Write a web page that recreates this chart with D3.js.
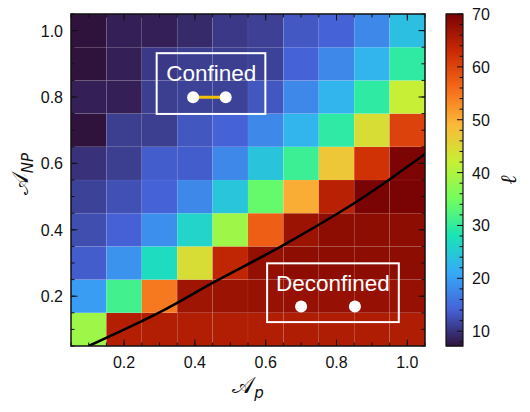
<!DOCTYPE html>
<html>
<head>
<meta charset="utf-8">
<script src="https://cdn.jsdelivr.net/npm/d3@7"></script>
<style>
  body { margin: 0; background: #fff; }
  text { font-family: "Liberation Sans", Arial, sans-serif; fill: #111; }
</style>
</head>
<body>
<div id="vis"></div>
<script>
// DATA
const apValues = [0.1, 0.2, 0.3, 0.4, 0.5, 0.6, 0.7, 0.8, 0.9, 1.0];
const anpValues = [0.1, 0.2, 0.3, 0.4, 0.5, 0.6, 0.7, 0.8, 0.9, 1.0];
// rows from A_NP = 0.1 (bottom) to 1.0 (top), columns A_p = 0.1 .. 1.0
const ellRows = [
  [38.7, 65, 65.3, 65.3, 65.3, 65.3, 65.5, 65.5, 65.5, 65.5],
  [20, 31.3, 54.8, 66.8, 67.2, 67.4, 67.6, 67.6, 67.6, 67.6],
  [13.7, 18.9, 27.2, 44.4, 64, 67.8, 68.4, 68.4, 68.4, 68.4],
  [12.4, 14.1, 18.5, 26.2, 38.7, 57.4, 67.2, 68.4, 68.4, 68.4],
  [11.4, 12.6, 14.2, 17.9, 24.4, 34, 50.2, 64.6, 70, 70],
  [10, 11, 13.7, 13.7, 17.9, 24.3, 30.8, 47.4, 62.2, 69.8],
  [7.3, 11, 11, 13.2, 14.2, 17.9, 22.5, 29.7, 44.4, 60.4],
  [8.4, 8.4, 11, 11.4, 11.4, 13.2, 17.9, 22.5, 29.7, 42],
  [7.3, 8.4, 10.6, 11, 11, 11.4, 14.2, 17.9, 22.5, 29.7],
  [7.3, 8.4, 8.4, 9.3, 10.6, 11.2, 13.3, 14.2, 17.9, 23.7]
];
const boundaryX = [0.1, 0.3, 0.45, 0.65, 0.85, 0.95, 1.06];
const boundaryY = [0.05, 0.151, 0.24, 0.354, 0.48, 0.552, 0.636];
const xTicks = [0.2, 0.4, 0.6, 0.8, 1.0];
const yTicks = [0.2, 0.4, 0.6, 0.8, 1.0];
const cbTicks = [10, 20, 30, 40, 50, 60, 70];
const ellMin = 7.2, ellMax = 70;

// turbo stops (matplotlib)
const turboStops = ["#30123b", "#4662d7", "#36aaf9", "#1ae4b6", "#72fe5e",
                    "#c7ef34", "#faba39", "#f66b19", "#cb2a04", "#7a0403"];

const width = 530, height = 412;
const margin = {left: 71, top: 14, right: 105, bottom: 66};
const plotW = 425 - margin.left, plotH = 346 - margin.top;

const svg = d3.select("#vis").append("svg")
  .attr("width", width).attr("height", height);

// SCALES
const x = d3.scaleLinear().domain([0.05, 1.05]).range([margin.left, margin.left + plotW]);
const y = d3.scaleLinear().domain([0.05, 1.05]).range([margin.top + plotH, margin.top]);
const turbo = d3.piecewise(d3.interpolateRgb, turboStops);
const color = d3.scaleSequential(turbo).domain([ellMin, ellMax]);

// HEATMAP
const cells = [];
ellRows.forEach((row, i) => row.forEach((v, j) => cells.push({ap: apValues[j], anp: anpValues[i], v: v})));
const half = 0.05;
svg.append("g").selectAll("rect")
  .data(cells).enter().append("rect")
  .attr("x", d => x(d.ap - half))
  .attr("y", d => y(d.anp + half))
  .attr("width", d => x(d.ap + half) - x(d.ap - half))
  .attr("height", d => y(d.anp - half) - y(d.anp + half))
  .attr("fill", d => color(d.v))
  .attr("stroke", "rgba(255,255,255,0.09)")
  .attr("stroke-width", 0.6);

// boundary curve
const clipId = "plotclip";
svg.append("clipPath").attr("id", clipId).append("rect")
  .attr("x", margin.left).attr("y", margin.top).attr("width", plotW).attr("height", plotH);
const line = d3.line().x(d => x(d[0])).y(d => y(d[1])).curve(d3.curveCatmullRom);
svg.append("path")
  .datum(boundaryX.map((v, i) => [v, boundaryY[i]]))
  .attr("clip-path", "url(#" + clipId + ")")
  .attr("d", line)
  .attr("fill", "none").attr("stroke", "#000").attr("stroke-width", 2.6);

// AXES (inward ticks on all sides)
const minor = d3.range(0.05, 1.051, 0.05);
const axG = svg.append("g");
function drawTicks(scale, orient, pos, vals, len) {
  const g = axG.append("g");
  vals.forEach(v => {
    const p = scale(v);
    if (orient === "bottom") g.append("line").attr("x1", p).attr("x2", p).attr("y1", pos).attr("y2", pos - len);
    if (orient === "top") g.append("line").attr("x1", p).attr("x2", p).attr("y1", pos).attr("y2", pos + len);
    if (orient === "left") g.append("line").attr("y1", p).attr("y2", p).attr("x1", pos).attr("x2", pos + len);
    if (orient === "right") g.append("line").attr("y1", p).attr("y2", p).attr("x1", pos).attr("x2", pos - len);
  });
  g.selectAll("line").attr("stroke", "#111").attr("stroke-width", 1);
}
const bottomY = margin.top + plotH, rightX = margin.left + plotW;
drawTicks(x, "bottom", bottomY, minor, 3.5);
drawTicks(x, "bottom", bottomY, xTicks, 6.5);
drawTicks(x, "top", margin.top, minor, 3.5);
drawTicks(x, "top", margin.top, xTicks, 6.5);
drawTicks(y, "left", margin.left, minor, 3.5);
drawTicks(y, "left", margin.left, yTicks, 6.5);
drawTicks(y, "right", rightX, minor, 3.5);
drawTicks(y, "right", rightX, yTicks, 6.5);

svg.append("g").selectAll("text").data(xTicks).enter().append("text")
  .attr("x", d => x(d)).attr("y", bottomY + 22)
  .attr("text-anchor", "middle").attr("font-size", 16)
  .text(d => d.toFixed(1));
svg.append("g").selectAll("text").data(yTicks).enter().append("text")
  .attr("x", margin.left - 8).attr("y", d => y(d) + 6)
  .attr("text-anchor", "end").attr("font-size", 16)
  .text(d => d.toFixed(1));

svg.append("rect")
  .attr("x", margin.left).attr("y", margin.top).attr("width", plotW).attr("height", plotH)
  .attr("fill", "none").attr("stroke", "#111").attr("stroke-width", 1.5);

// axis labels
const xl = svg.append("text").attr("x", 248).attr("y", 393).attr("text-anchor", "middle")
  .attr("font-size", 23).style("font-family", "'DejaVu Sans', 'Noto Sans', serif");
xl.append("tspan").text("\u{1D49C}");
xl.append("tspan").attr("font-size", 15).attr("dy", 5).style("font-style", "italic").text("p");

const yl = svg.append("text").attr("transform", "translate(28,174) rotate(-90)").attr("text-anchor", "middle")
  .attr("font-size", 23).style("font-family", "'DejaVu Sans', 'Noto Sans', serif");
yl.append("tspan").text("\u{1D49C}");
yl.append("tspan").attr("font-size", 15).attr("dy", 5).style("font-style", "italic").text("NP");

// ANNOTATIONS
function annBox(x0, x1, y0, y1, label, tx, ty, dots, bond) {
  svg.append("rect")
    .attr("x", x(x0)).attr("y", y(y0)).attr("width", x(x1) - x(x0)).attr("height", y(y1) - y(y0))
    .attr("fill", "none").attr("stroke", "#fff").attr("stroke-width", 2);
  svg.append("text").attr("x", x(tx)).attr("y", y(ty)).attr("text-anchor", "middle")
    .attr("font-size", 22.5).style("fill", "#fff").text(label);
  if (bond) {
    svg.append("line").attr("x1", x(dots[0][0])).attr("x2", x(dots[1][0]))
      .attr("y1", y(dots[0][1])).attr("y2", y(dots[1][1]))
      .attr("stroke", "#f2c200").attr("stroke-width", 3);
  }
  svg.append("g").selectAll("circle").data(dots).enter().append("circle")
    .attr("cx", d => x(d[0])).attr("cy", d => y(d[1])).attr("r", 6)
    .attr("fill", "#fff");
}
annBox(0.292, 0.599, 0.932, 0.749, "Confined", 0.446, 0.848, [[0.395, 0.799], [0.487, 0.799]], true);
annBox(0.604, 0.976, 0.299, 0.122, "Deconfined", 0.79, 0.215, [[0.7, 0.169], [0.852, 0.169]], false);

// COLORBAR
const cbX = 446, cbW = 17;
const cbY = d3.scaleLinear().domain([ellMin, ellMax]).range([bottomY, margin.top]);
const nSteps = 200, stepV = (ellMax - ellMin) / nSteps;
const cbSteps = d3.range(nSteps).map(i => ellMin + i * stepV);
svg.append("g").selectAll("rect").data(cbSteps).enter().append("rect")
  .attr("x", cbX).attr("width", cbW)
  .attr("y", d => cbY(d + stepV) - 0.5)
  .attr("height", cbY(ellMin) - cbY(ellMin + stepV) + 1)
  .attr("fill", d => color(d + stepV / 2));
const cbMinor = d3.range(8, 70.1, 2);
cbMinor.forEach(v => {
  const len = v % 10 === 0 ? 6 : 3.5;
  svg.append("line").attr("x1", cbX + cbW).attr("x2", cbX + cbW - len)
    .attr("y1", cbY(v)).attr("y2", cbY(v)).attr("stroke", "#111").attr("stroke-width", 1);
});
svg.append("rect").attr("x", cbX).attr("y", margin.top).attr("width", cbW).attr("height", plotH)
  .attr("fill", "none").attr("stroke", "#111").attr("stroke-width", 1.2);
svg.append("g").selectAll("text").data(cbTicks).enter().append("text")
  .attr("x", cbX + cbW + 9).attr("y", d => cbY(d) + 6)
  .attr("font-size", 16).text(d => d);
svg.append("text").attr("transform", "translate(516,180) rotate(-90)")
  .attr("text-anchor", "middle").attr("font-size", 22)
  .style("font-family", "'DejaVu Serif', serif").style("font-style", "italic")
  .text("\u2113");
</script>
</body>
</html>
